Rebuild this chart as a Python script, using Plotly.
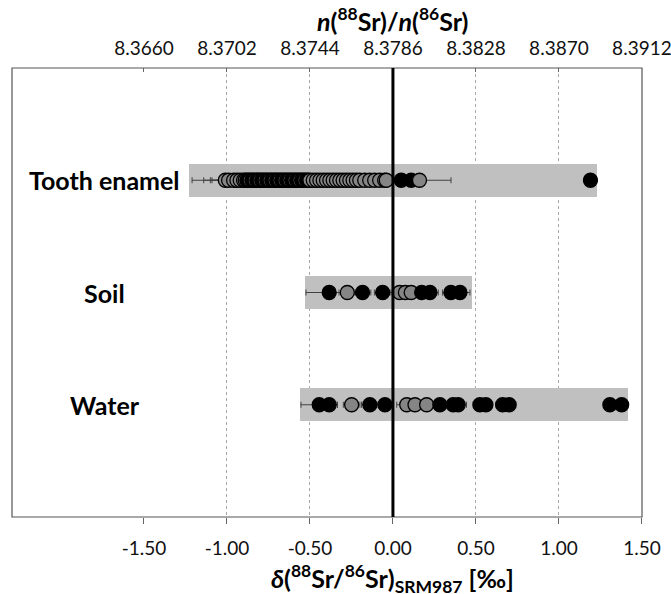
import plotly.graph_objects as go

# ---------------- data ----------------
categories = ["Tooth enamel", "Soil", "Water"]

# grey range bars (delta, per mil)
range_min = [-1.229, -0.530, -0.560]
range_max = [1.229, 0.474, 1.418]

# Tooth enamel (fill: "g" = grey, "k" = black)
tooth_vals = [-1.01, -0.99, -0.96, -0.94, -0.92, -0.90,
              -0.89, -0.88, -0.87, -0.86, -0.85, -0.84, -0.83, -0.82, -0.81, -0.80,
              -0.79, -0.78, -0.77, -0.76, -0.75, -0.74, -0.73, -0.72, -0.71, -0.70,
              -0.69, -0.68, -0.67, -0.66, -0.65, -0.64, -0.63, -0.62, -0.61, -0.60,
              -0.59, -0.58, -0.57, -0.56, -0.55, -0.54, -0.53, -0.52, -0.51, -0.50,
              -0.48, -0.46, -0.44, -0.42, -0.40, -0.38, -0.36, -0.34, -0.32, -0.30,
              -0.28, -0.26, -0.24, -0.22, -0.20, -0.17, -0.14, -0.11, -0.08, -0.05,
              -0.04, 0.05, 0.11, 0.16, 1.19]
tooth_err = [0.20, 0.15, 0.14, 0.15, 0.06, 0.05,
             0.05, 0.05, 0.05, 0.05, 0.05, 0.05, 0.05, 0.05, 0.05, 0.05,
             0.05, 0.05, 0.05, 0.05, 0.05, 0.05, 0.05, 0.05, 0.05, 0.05,
             0.05, 0.05, 0.05, 0.05, 0.05, 0.05, 0.05, 0.05, 0.05, 0.05,
             0.05, 0.05, 0.05, 0.05, 0.05, 0.05, 0.05, 0.05, 0.05, 0.05,
             0.05, 0.05, 0.05, 0.05, 0.05, 0.05, 0.05, 0.05, 0.05, 0.05,
             0.05, 0.05, 0.05, 0.05, 0.05, 0.05, 0.05, 0.05, 0.05, 0.05,
             0.05, 0.04, 0.04, 0.19, 0.03]
tooth_fill = ["g", "g", "g", "g", "g", "g",
              "g", "k", "k", "g", "k", "k", "g", "k", "k", "g",
              "k", "k", "g", "k", "k", "g", "k", "k", "g", "k",
              "k", "g", "k", "k", "g", "k", "k", "g", "k", "k",
              "g", "k", "k", "g", "k", "k", "g", "k", "k", "g",
              "g", "g", "g", "g", "g", "g", "g", "g", "g", "g",
              "g", "g", "g", "g", "g", "g", "g", "g", "g", "g",
              "g", "k", "k", "g", "k"]

# Soil
soil_vals = [-0.384, -0.275, -0.183, -0.062, 0.04, 0.075, 0.11, 0.173, 0.223, 0.349, 0.404]
soil_err = [0.14, 0.05, 0.05, 0.05, 0.06, 0.06, 0.06, 0.05, 0.05, 0.05, 0.06]
soil_fill = ["k", "g", "k", "k", "g", "g", "g", "k", "k", "k", "k"]

# Water
water_vals = [-0.444, -0.384, -0.249, -0.139, -0.048, 0.083, 0.133, 0.203, 0.283,
              0.363, 0.393, 0.524, 0.560, 0.661, 0.700, 1.307, 1.378]
water_err = [0.11, 0.05, 0.05, 0.05, 0.05, 0.06, 0.06, 0.06, 0.05,
             0.05, 0.05, 0.04, 0.04, 0.04, 0.04, 0.03, 0.03]
water_fill = ["k", "k", "g", "k", "k", "g", "g", "g", "k",
              "k", "k", "k", "k", "k", "k", "k", "k"]

bottom_ticks = [-1.50, -1.00, -0.50, 0.00, 0.50, 1.00, 1.50]
top_ticks = [8.3660, 8.3702, 8.3744, 8.3786, 8.3828, 8.3870, 8.3912]
grid_vals = [-1.0, -0.5, 0.5, 1.0]

# ---------------- figure ----------------
FONT = "Lato"
FILL = {"g": "#858585", "k": "#000000"}
n = len(categories)
ypos = [n - i for i in range(n)]  # Tooth enamel at top

fig = go.Figure()

fig.add_trace(go.Bar(
    y=ypos, x=[b - a for a, b in zip(range_min, range_max)], base=range_min,
    orientation="h", width=0.29, marker=dict(color="#c0c0c0", line=dict(width=0)),
    hoverinfo="skip", showlegend=False))

groups = [
    (tooth_vals, tooth_err, tooth_fill),
    (soil_vals, soil_err, soil_fill),
    (water_vals, water_err, water_fill),
]

for yp, (vals, errs, fills) in zip(ypos, groups):
    fig.add_trace(go.Scatter(
        x=vals, y=[yp] * len(vals), mode="markers",
        marker=dict(size=14, color=[FILL[f] for f in fills],
                    line=dict(color="#000000", width=1.3)),
        error_x=dict(type="data", array=errs, color="#404040", thickness=1, width=3),
        showlegend=False))

# invisible trace to activate top axis
fig.add_trace(go.Scatter(x=top_ticks, y=[0] * len(top_ticks), xaxis="x2",
                         mode="markers", marker=dict(opacity=0, size=1), hoverinfo="skip",
                         showlegend=False))

x_lo, x_hi = -2.295, 1.5005
ratio0, ratio_per = 8.3786, 0.0084

fig.update_layout(
    width=671, height=594,
    margin=dict(l=12, r=29, t=68, b=77, autoexpand=False),
    paper_bgcolor="white", plot_bgcolor="white",
    font=dict(family=FONT, size=19, color="#111111"),
    bargap=0,
    xaxis=dict(
        range=[x_lo, x_hi], tickmode="array", tickvals=bottom_ticks,
        ticktext=[f"{v:.2f}" for v in bottom_ticks], automargin=False,
        showgrid=False, zeroline=False, showline=False,
        ticks="outside", ticklen=6, tickcolor="#666666", tickwidth=1,
        ticklabelstandoff=8, ticklabeloverflow="allow",
        tickfont=dict(family=FONT, size=19, color="#111111"),
        minor=dict(tickmode="array", tickvals=grid_vals, showgrid=True,
                   gridcolor="#a8a8a8", griddash="dot", gridwidth=1, ticks=""),
    ),
    xaxis2=dict(
        overlaying="x", side="top", automargin=False,
        range=[ratio0 + x_lo * ratio_per, ratio0 + x_hi * ratio_per],
        tickmode="array", tickvals=top_ticks,
        ticktext=[f"{v:.4f}" for v in top_ticks],
        showgrid=False, zeroline=False, showline=False,
        ticks="inside", ticklen=4, tickcolor="#666666",
        ticklabelstandoff=8, ticklabeloverflow="allow",
        tickfont=dict(family=FONT, size=19, color="#111111"),
    ),
    yaxis=dict(range=[0, 4], showticklabels=False, showgrid=False,
               zeroline=False, ticks="", automargin=False),
)

# frame and zero line
fig.add_shape(type="rect", xref="paper", yref="paper", x0=0, x1=1, y0=0, y1=1,
              line=dict(color="#555555", width=1.2), layer="above")
fig.add_shape(type="line", xref="x", yref="paper", x0=0, x1=0, y0=0, y1=1,
              line=dict(color="#000000", width=3), layer="above")

# category labels
for yp, cat in zip(ypos, categories):
    fig.add_annotation(x=-1.735, y=yp, xref="x", yref="y", text=f"<b>{cat}</b>",
                       showarrow=False, xanchor="center", yanchor="middle",
                       font=dict(family=FONT, size=25, color="#000000"))

# axis titles
fig.add_annotation(x=0, y=1.107, xref="x", yref="paper",
                   text="<b><i>n</i>(<sup>88</sup>Sr)/<i>n</i>(<sup>86</sup>Sr)</b>",
                   showarrow=False, xanchor="center", yanchor="middle",
                   font=dict(family=FONT, size=25, color="#000000"))
fig.add_annotation(x=0, y=-0.136, xref="x", yref="paper",
                   text="<b><i>δ</i>(<sup>88</sup>Sr/<sup>86</sup>Sr)<sub>SRM987</sub> [‰]</b>",
                   showarrow=False, xanchor="center", yanchor="middle",
                   font=dict(family=FONT, size=25, color="#000000"))

fig.write_html("out.html", config={"displayModeBar": False},
               post_script="document.body.style.margin='0';document.body.style.overflow='hidden';")
